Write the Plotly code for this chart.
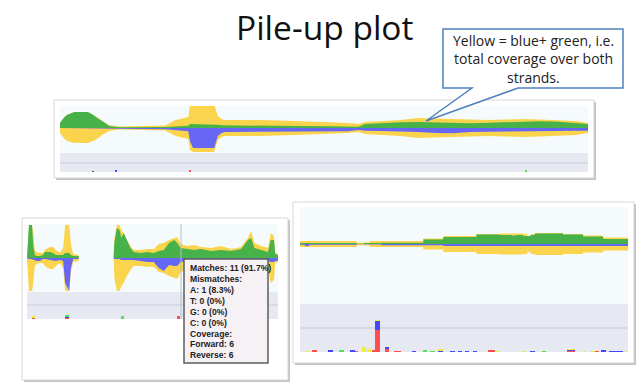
import plotly.graph_objects as go

W, H = 640, 387

# ---------------- data ----------------
# Panel 1 (overview pile-up): positions (0-1000), forward, reverse, total coverage
p1_pos = [0, 7, 13, 27, 53, 63, 73, 80, 93, 113, 199, 209, 219, 243, 246, 252, 292, 299, 306, 312,
          326, 379, 445, 512, 545, 565, 578, 611, 645, 678, 711, 744, 777, 811, 844, 877, 910, 944, 977, 1000]
p1_fwd = [5, 10, 13, 16, 16, 13, 9, 7, 2, 0.7, 1, 1.3, 1.7, 2.3, 4, 4, 4, 3.3, 2.7, 2.7,
          2.3, 2, 2, 1.7, 1.7, 1.3, 4, 5, 5.7, 6, 5.7, 5.3, 4.7, 5.3, 6, 6.7, 6.7, 6.3, 5.3, 4]
p1_rev = [0, 0, 0, 0, 0, 0, 0, 0, 0, 0.7, 1.3, 1.7, 2, 3.3, 13, 20, 20, 8, 5, 4,
          4, 4, 4, 3.7, 3.3, 2, 2.7, 3, 3.3, 4, 5, 5.3, 4, 3.7, 3.3, 3, 2.7, 2.7, 2.7, 2.7]
p1_tot = [5, 10, 13, 15, 15, 13, 10, 7, 3, 1.5, 2.5, 5, 8, 11, 22, 24, 24, 12, 9, 8,
          8, 8, 7, 6, 5, 4, 6, 7, 8, 10, 9.5, 9, 8.5, 8, 8.5, 9, 8.5, 8, 7, 5]
p1_mm_pos = [62, 106, 246, 883]
p1_mm_w = [4, 4, 4, 4]
p1_mm_red = [0, 0, 2, 0]
p1_mm_blue = [1, 2, 0, 0]
p1_mm_green = [0, 0, 0, 2]
p1_mm_yellow = [1, 0, 0, 0]

# Panel 2 (zoomed, with tooltip)
p2_pos = [0, 4, 8, 20, 25, 31, 37, 51, 64, 71, 91, 104, 115, 131, 144, 152, 168, 175, 184, 205,
          207, 345, 348, 358, 369, 376, 385, 398, 412, 425, 452, 479, 505, 525, 545, 566, 586, 599, 612, 639,
          666, 693, 733, 773, 813, 853, 880, 893, 906, 933, 960, 971, 984, 989, 1000]
p2_fwd = [0, 12, 33, 33, 12, 3, 2, 2, 3, 6, 6, 5, 3, 3, 3, 5, 5, 3, 2, 2,
          0, 0, 15, 30, 28, 20, 25, 18, 10, 6, 5, 6, 5, 7, 8, 15, 18, 15, 10, 9,
          8, 9, 7, 8, 7, 9, 18, 20, 10, 8, 6, 18, 18, 4, 3]
p2_rev = [0, 1, 1, 1, 2, 2, 3, 3, 1, 1, 2, 3, 3, 2, 3, 25, 33, 10, 1, 1,
          0, 0, 1, 1, 1, 2, 2, 2, 2, 2, 3, 4, 4, 10, 13, 7, 8, 8, 4, 3,
          3, 3, 3, 3, 3, 3, 3, 3, 3, 3, 3, 4, 4, 3, 3]
p2_tot = [0, 25, 33, 33, 25, 8, 6, 5, 5, 8, 11, 11, 8, 5, 10, 33, 33, 14, 4, 3,
          0, 0, 20, 33, 33, 28, 25, 18, 12, 8, 8, 9, 9, 14, 15, 18, 20, 21, 14, 12,
          13, 11, 10, 12, 9, 11, 20, 27, 15, 12, 10, 25, 22, 5, 4]
p2_mm_pos = [26, 160, 381, 603]
p2_mm_w = [12, 16, 10, 10]
p2_mm_red = [1.5, 1.5, 0, 3]
p2_mm_blue = [0, 1, 0, 0]
p2_mm_green = [0, 1, 3, 0]
p2_mm_yellow = [1.5, 0, 0, 0]

tooltip_lines = ["Matches: 11 (91.7%)", "Mismatches:", "A: 1 (8.3%)", "T: 0 (0%)", "G: 0 (0%)",
                 "C: 0 (0%)", "Coverage:", "Forward: 6", "Reverse: 6"]

# Panel 3 (zoomed, mismatch histogram)
p3_pos = [0, 15, 28, 173, 195, 213, 249, 376, 437, 538, 609, 645, 660, 680, 693, 703, 716, 802, 863, 924, 1000]
p3_fwd = [1, 1, 1, 0.3, 1, 1, 1.3, 4.5, 7, 9.5, 9, 8.5, 9, 8, 8, 9, 10.5, 9.5, 7.5, 5, 5]
p3_rev = [0.7, 2, 0.7, 0.3, 0.3, 0.5, 1.3, 1.3, 2, 2, 2, 2, 2, 2, 2, 2, 2, 2, 2, 2, 2]
p3_tot = [3, 3, 3, 1.2, 1.5, 3, 3, 5.5, 8, 10, 10.5, 10.5, 10.5, 10, 8, 10, 11, 10, 8.5, 6.5, 6.5]
p3_mm_pos = [21, 43, 92, 127, 160, 173, 195, 210, 226, 236, 265, 297, 347, 382, 404, 428, 464, 487, 510, 533,
             584, 602, 683, 708, 743, 827, 868, 893, 906, 926, 964, 995]
p3_mm_w = [13, 15, 15, 14, 15, 10, 15, 12, 10, 17, 13, 22, 13, 12, 13, 13, 15, 13, 13, 12,
           19, 10, 10, 15, 13, 24, 10, 10, 13, 15, 43, 10]
p3_mm_red = [0, 2.5, 0, 0, 0, 1, 0, 0, 1.5, 21.7, 3, 1, 0, 0, 0, 0, 0, 0, 0, 0,
             1.3, 0, 0, 0, 0, 1.3, 0, 0, 1, 0, 0, 0]
p3_mm_blue = [0, 0, 2.5, 0, 2.5, 0, 0, 0, 0, 9.3, 1.5, 0, 1, 0, 0, 1.5, 1, 1, 1, 1,
              0, 0, 0, 1, 0, 0.7, 0, 0, 0, 2.5, 1, 0]
p3_mm_green = [0, 0, 0, 1.5, 0, 0, 0, 0, 0, 0, 0, 0, 0, 2.5, 1, 0, 0, 0, 0, 0,
               0, 0, 0, 0, 1, 0, 0, 0, 0, 0, 0, 0]
p3_mm_yellow = [1, 0, 0, 0, 0, 0, 5, 3, 0, 1, 0, 0, 0, 0, 0, 0.7, 0, 0, 0, 0,
                0, 0.7, 0.7, 0, 0, 0.5, 0.7, 0.7, 0, 0, 0, 0.7]

title_text = "Pile-up plot"
callout_lines = ["Yellow = blue+ green, i.e.", "total coverage over both", "strands."]

# ---------------- styles ----------------
YEL = "#f9d44c"
GRN = "#47b249"
BLU = "#6767f6"
MM_RED, MM_BLU, MM_GRN, MM_YEL = "#ff4f4f", "#4646ff", "#55e055", "#eeee3a"
PLOT_BG = "#f5fbfd"
BAND_BG = "#e7e9f2"
BAND_LINE = "#c8ccd7"


def px(x):
    return x / W


def py(y):
    return 1 - y / H


def rect(x0, y0, x1, y1, fill, line=None, lw=0, layer="below"):
    return dict(type="rect", xref="paper", yref="paper", x0=px(x0), x1=px(x1), y0=py(y1), y1=py(y0),
                fillcolor=fill, line=dict(color=line or fill, width=lw), layer=layer)


def hline(x0, x1, y, color, lw=1, layer="below"):
    return dict(type="line", xref="paper", yref="paper", x0=px(x0), x1=px(x1), y0=py(y), y1=py(y),
                line=dict(color=color, width=lw), layer=layer)


# panels: (frame box, coverage box, band box, band line y, cov y-range, band y-range)
panels = [
    dict(frame=(54, 100, 594, 178), x=(60, 588), cov=(106, 153), band=(153, 172), line=163,
         cr=[-25, 22], br=[0, 19]),
    dict(frame=(22, 218, 288, 380), x=(27, 278), cov=(224, 292), band=(292, 319), line=305,
         cr=[-34, 34], br=[0, 27]),
    dict(frame=(293, 202, 634, 363), x=(300, 628), cov=(207, 304), band=(304, 352), line=328,
         cr=[-60, 37], br=[0, 48]),
]

shapes = []
for p in panels:
    fx0, fy0, fx1, fy1 = p["frame"]
    shapes.append(rect(fx0 + 2, fy0 + 2, fx1 + 2, fy1 + 2, "#c4c4c4"))
    shapes.append(rect(fx0, fy0, fx1, fy1, "white", "#d6d6d6", 1))
    shapes.append(rect(p["x"][0], p["cov"][0], p["x"][1], p["cov"][1], PLOT_BG))
    shapes.append(rect(p["x"][0], p["band"][0], p["x"][1], p["band"][1], BAND_BG))
    shapes.append(hline(p["x"][0], p["x"][1], p["line"], BAND_LINE, 1))

# cursor line + tooltip in panel 2
shapes.append(dict(type="line", xref="paper", yref="paper", x0=px(181), x1=px(181), y0=py(319), y1=py(224),
                   line=dict(color="#b9bcc4", width=1), layer="above"))
shapes.append(rect(184, 259, 268, 363, "#f6f1f4", "#5e5e5e", 1.5, layer="above"))

# callout
pts = [(443, 29), (623, 29), (623, 88), (518, 88), (426, 121), (472, 88), (443, 88)]
path = "M " + " L ".join(f"{px(a):.5f},{py(b):.5f}" for a, b in pts) + " Z"
shapes.append(dict(type="path", xref="paper", yref="paper", path=path, fillcolor="white",
                   line=dict(color="#4f81bd", width=1.5), layer="above"))

fig = go.Figure()

cov_data = [(p1_pos, p1_fwd, p1_rev, p1_tot, "linear"),
            (p2_pos, p2_fwd, p2_rev, p2_tot, "linear"),
            (p3_pos, p3_fwd, p3_rev, p3_tot, "hv")]
mm_data = [(p1_mm_pos, p1_mm_w, p1_mm_red, p1_mm_blue, p1_mm_green, p1_mm_yellow),
           (p2_mm_pos, p2_mm_w, p2_mm_red, p2_mm_blue, p2_mm_green, p2_mm_yellow),
           (p3_mm_pos, p3_mm_w, p3_mm_red, p3_mm_blue, p3_mm_green, p3_mm_yellow)]

layout_axes = {}
for i, p in enumerate(panels):
    nc = 2 * i + 1
    nb = 2 * i + 2
    sc = "" if nc == 1 else str(nc)
    sb = str(nb)
    xd = [px(p["x"][0]), px(p["x"][1])]
    layout_axes["xaxis" + sc] = dict(domain=xd, range=[0, 1000], visible=False, fixedrange=True, anchor="y" + sc)
    layout_axes["yaxis" + sc] = dict(domain=[py(p["cov"][1]), py(p["cov"][0])], range=p["cr"], visible=False,
                                     fixedrange=True, anchor="x" + sc)
    layout_axes["xaxis" + sb] = dict(domain=xd, range=[0, 1000], visible=False, fixedrange=True, anchor="y" + sb)
    layout_axes["yaxis" + sb] = dict(domain=[py(p["band"][1]), py(p["band"][0])], range=p["br"], visible=False,
                                     fixedrange=True, anchor="x" + sb)

    pos, fwd, rev, tot, shp = cov_data[i]
    xa, ya = "x" + sc, "y" + sc
    common = dict(mode="lines", xaxis=xa, yaxis=ya, hoverinfo="skip", showlegend=False)
    fig.add_trace(go.Scatter(x=pos, y=tot, fill="tozeroy", fillcolor=YEL, line=dict(width=0, shape=shp), **common))
    fig.add_trace(go.Scatter(x=pos, y=[-v for v in tot], fill="tozeroy", fillcolor=YEL,
                             line=dict(width=0, shape=shp), **common))
    fig.add_trace(go.Scatter(x=pos, y=fwd, fill="tozeroy", fillcolor=GRN, line=dict(width=0, shape=shp), **common))
    fig.add_trace(go.Scatter(x=pos, y=[-v for v in rev], fill="tozeroy", fillcolor=BLU,
                             line=dict(width=0, shape=shp), **common))

    mpos, mw, mr, mbl, mg, my = mm_data[i]
    for vals, col in [(mr, MM_RED), (mbl, MM_BLU), (mg, MM_GRN), (my, MM_YEL)]:
        fig.add_trace(go.Bar(x=mpos, y=vals, width=mw, marker=dict(color=col, line=dict(width=0)),
                             xaxis="x" + sb, yaxis="y" + sb, hoverinfo="skip", showlegend=False))

annotations = [dict(text=title_text, x=px(325), y=py(27), xref="paper", yref="paper", showarrow=False,
                    xanchor="center", yanchor="middle", font=dict(family="Open Sans", size=33.5, color="#111111"))]
for k, (txt, yy) in enumerate(zip(callout_lines, [40, 58, 77])):
    annotations.append(dict(text=txt, x=px(533), y=py(yy), xref="paper", yref="paper", showarrow=False,
                            xanchor="center", yanchor="middle",
                            font=dict(family="Open Sans", size=14, color="#222222")))
for k, txt in enumerate(tooltip_lines):
    annotations.append(dict(text="<b>" + txt + "</b>", x=px(187.5), y=py(268.4 + 10.85 * k), xref="paper",
                            yref="paper", showarrow=False, xanchor="left", yanchor="middle",
                            font=dict(family="Liberation Sans", size=8.6, color="#222222")))

fig.update_layout(width=W, height=H, margin=dict(l=0, r=0, t=0, b=0), paper_bgcolor="white",
                  plot_bgcolor="rgba(0,0,0,0)", barmode="stack", bargap=0, hovermode=False,
                  shapes=shapes, annotations=annotations, showlegend=False, **layout_axes)

fig.write_html("out.html", config={"displayModeBar": False},
               post_script="document.body.style.margin='0';document.body.style.overflow='hidden';")
